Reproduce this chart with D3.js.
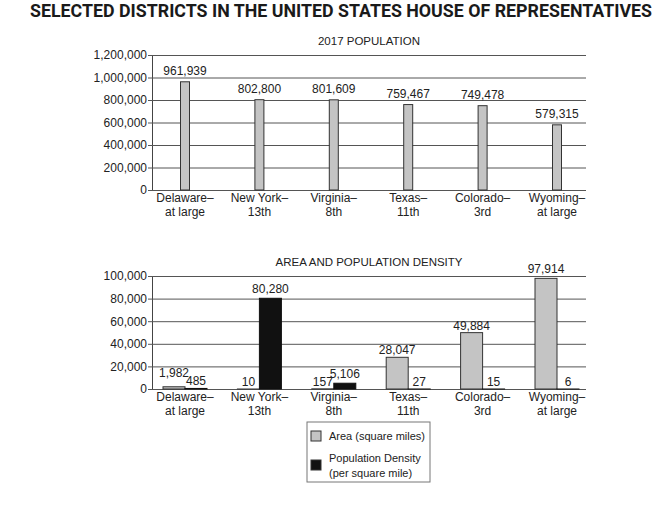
<!DOCTYPE html>
<html><head><meta charset="utf-8">
<script src="https://cdn.jsdelivr.net/npm/d3@7"></script>
<style>
body{margin:0;background:#fff;}
svg text{font-family:"Liberation Sans",Arial,sans-serif;fill:#222;}
</style></head>
<body><svg id="chart" width="662" height="511"></svg>
<script>
const districts = ["Delaware–at large","New York–13th","Virginia–8th","Texas–11th","Colorado–3rd","Wyoming–at large"];
const population = [961939, 802800, 801609, 759467, 749478, 579315];
const area = [1982, 10, 157, 28047, 49884, 97914];
const density = [485, 80280, 5106, 27, 15, 6];
const popTicks = [0,200000,400000,600000,800000,1000000,1200000];
const areaTicks = [0,20000,40000,60000,80000,100000];
const legendLabels = [["Area (square miles)"],["Population Density","(per square mile)"]];

const svg = d3.select("#chart");
const fmt = d3.format(",");
const L = 152, R = 586;
const x = d3.scalePoint().domain(districts).range([185, 557]);

svg.append("text").attr("x",30).attr("y",17)
  .attr("textLength",622).attr("lengthAdjust","spacingAndGlyphs")
  .style("font-family","Roboto, 'Liberation Sans', sans-serif").style("font-weight","bold")
  .style("font-size","18px").style("fill","#1a1a1a")
  .text("SELECTED DISTRICTS IN THE UNITED STATES HOUSE OF REPRESENTATIVES");

function panel(top, bottom, ticks, title, titleY, catY){
  const y = d3.scaleLinear().domain([0, ticks[ticks.length-1]]).range([bottom, top]);
  const g = svg.append("g").attr("transform",`translate(${L},0)`);
  const ax = d3.axisLeft(y).tickValues(ticks).tickFormat(fmt).tickSize(-(R-L)).tickSizeOuter(0).tickPadding(5);
  g.call(ax);
  g.select(".domain").attr("stroke","#444").attr("stroke-width",1);
  g.selectAll(".tick line").attr("x1",-4).attr("stroke","#555").attr("stroke-width",1);
  g.selectAll(".tick text").style("font-size","12px").style("fill","#222").style("font-family","'Liberation Sans',Arial,sans-serif");
  svg.append("text").attr("x",(L+R)/2).attr("y",titleY).attr("text-anchor","middle")
    .style("font-size","11.5px").text(title);
  const cg = svg.append("g");
  districts.forEach(d=>{
    const parts = d.split("–");
    const t = cg.append("text").attr("text-anchor","middle").style("font-size","12px");
    t.append("tspan").attr("x",x(d)).attr("y",catY).text(parts[0]+"–");
    t.append("tspan").attr("x",x(d)).attr("y",catY+14).text(parts[1]);
  });
  return y;
}

// Top panel
const y1 = panel(55, 190, popTicks, "2017 POPULATION", 45, 202);
const bw1 = 9;
svg.append("g").selectAll("rect").data(population).join("rect")
  .attr("x",(d,i)=>x(districts[i])-bw1/2).attr("y",d=>y1(d))
  .attr("width",bw1).attr("height",d=>y1(0)-y1(d))
  .attr("fill","#c4c4c4").attr("stroke","#333").attr("stroke-width",1);
svg.append("g").selectAll("text").data(population).join("text")
  .attr("x",(d,i)=>x(districts[i])).attr("y",d=>y1(d)-7)
  .attr("text-anchor","middle").style("font-size","12px").text(d=>fmt(d));

// Bottom panel
const y2 = panel(276, 389, areaTicks, "AREA AND POPULATION DENSITY", 266, 401);
const bw2 = 22;
const gb = svg.append("g");
gb.selectAll("rect.a").data(area).join("rect").attr("class","a")
  .attr("x",(d,i)=>x(districts[i])-bw2).attr("y",d=>y2(d))
  .attr("width",bw2).attr("height",d=>Math.max(y2(0)-y2(d),0.01))
  .attr("fill","#c4c4c4").attr("stroke","#333").attr("stroke-width",1);
gb.selectAll("rect.d").data(density).join("rect").attr("class","d")
  .attr("x",(d,i)=>x(districts[i])).attr("y",d=>y2(d))
  .attr("width",bw2).attr("height",d=>Math.max(y2(0)-y2(d),0.01))
  .attr("fill","#111").attr("stroke","#111").attr("stroke-width",1);
districts.forEach((dist,i)=>{
  let ya = y2(area[i]) - 3, yd = y2(density[i]) - 3;
  if (area[i] > 60000) ya -= 2;
  if (density[i] > 60000) yd -= 2;
  if (Math.abs(ya-yd) < 8) { if (area[i] > density[i]) ya = yd - 8; else yd = ya - 8; }
  svg.append("text").attr("x",x(dist)-bw2/2).attr("y",ya).attr("text-anchor","middle")
    .style("font-size","12px").text(fmt(area[i]));
  svg.append("text").attr("x",x(dist)+bw2/2).attr("y",yd).attr("text-anchor","middle")
    .style("font-size","12px").text(fmt(density[i]));
});

// Legend
const lg = svg.append("g");
lg.append("rect").attr("x",307).attr("y",422).attr("width",123).attr("height",60)
  .attr("fill","#fff").attr("stroke","#777").attr("stroke-width",1);
const swFill = ["#c4c4c4","#111"];
const swY = [431, 460];
legendLabels.forEach((lines,i)=>{
  lg.append("rect").attr("x",311).attr("y",swY[i]).attr("width",10).attr("height",10)
    .attr("fill",swFill[i]).attr("stroke","#333").attr("stroke-width",1);
  const t = lg.append("text").style("font-size","11px");
  lines.forEach((ln,j)=>{
    t.append("tspan").attr("x",329).attr("y",(i===0?440:462)+j*15).text(ln);
  });
});
</script></body></html>
